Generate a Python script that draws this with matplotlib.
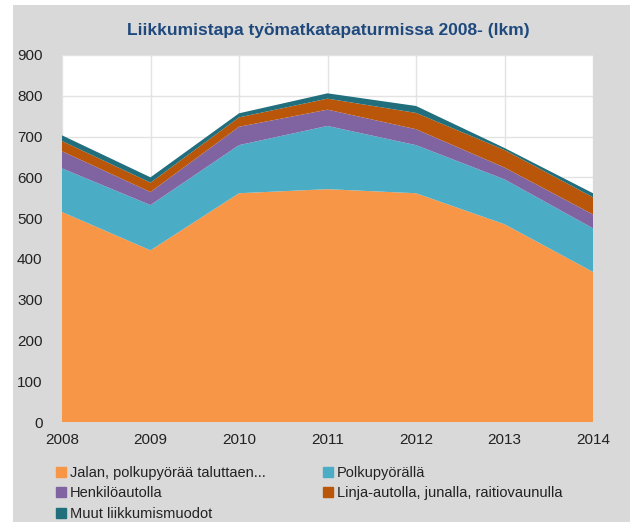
# -*- coding: utf-8 -*-
"""
    Liikkumistapa työmatkatapaturmissa 2008- (lkm), pinottu aluekaavio
"""
import matplotlib
matplotlib.use('Agg')
import matplotlib.pyplot as plt
from matplotlib.patches import Rectangle
from matplotlib.lines import Line2D

plt.rcParams['font.family'] = ['Liberation Sans Narrow', 'Liberation Sans', 'DejaVu Sans']

years = [2008, 2009, 2010, 2011, 2012, 2013, 2014]
jalan = [515, 421, 561, 571, 561, 485, 368]
polkupyora = [107, 111, 118, 155, 118, 110, 107]
henkiloauto = [42, 32, 45, 40, 39, 29, 34]
joukkoliikenne = [25, 23, 23, 27, 40, 43, 42]
muut = [14, 13, 10, 13, 17, 5, 10]

labels = ['Jalan, polkupyörää taluttaen...', 'Polkupyörällä', 'Henkilöautolla',
          'Linja-autolla, junalla, raitiovaunulla', 'Muut liikkumismuodot']
colors = ['#F79646', '#4BACC6', '#8064A2', '#B9560A', '#216E7C']

fig = plt.figure(figsize=(6.3, 5.22), dpi=100)
fig.patch.set_facecolor('white')
# harmaa kaavioalue
fig.patches.append(Rectangle((13 / 630, 0), 1 - 13 / 630, 1 - 5 / 522,
                             transform=fig.transFigure, facecolor='#D9D9D9',
                             edgecolor='none', zorder=-5))

ax = fig.add_axes([62 / 630, 100 / 522, 531 / 630, 367 / 522])
ax.set_zorder(2)
ax.set_facecolor('white')
ax.stackplot(years, jalan, polkupyora, henkiloauto, joukkoliikenne, muut,
             colors=colors, labels=labels, zorder=2)

ax.set_xlim(2008, 2014)
ax.set_ylim(0, 900)
ax.set_xticks(years)
ax.set_yticks(range(0, 901, 100))
ax.grid(True, color='#E3E3E3', linewidth=1, zorder=1)
ax.set_axisbelow(True)
for s in ax.spines.values():
    s.set_visible(False)
ax.tick_params(length=0, labelsize=11, colors='#222222', pad=8)
ax.tick_params(axis='y', pad=14)

fig.text(328 / 630, 1 - 30 / 522, 'Liikkumistapa työmatkatapaturmissa 2008- (lkm)',
         ha='center', va='center', fontsize=12.5, fontweight='bold', color='#1F497D')

# legenda rivijärjestyksessä kuten alkuperäisessä (matplotlib täyttää sarakkeittain)
order = [0, 2, 4, 1, 3]
handles = [Line2D([], [], marker='s', linestyle='none', markersize=7,
                  markerfacecolor=colors[i], markeredgecolor=colors[i]) for i in order]
fig.legend(handles, [labels[i] for i in order], ncol=2, loc='upper left',
           bbox_to_anchor=(48 / 630, 1 - 460 / 522), frameon=False,
           fontsize=10.5, handletextpad=0.1, handlelength=1.0,
           columnspacing=3.8, labelspacing=0.45, borderaxespad=0,
           labelcolor='#222222')

fig.savefig('out.png', dpi=100)
